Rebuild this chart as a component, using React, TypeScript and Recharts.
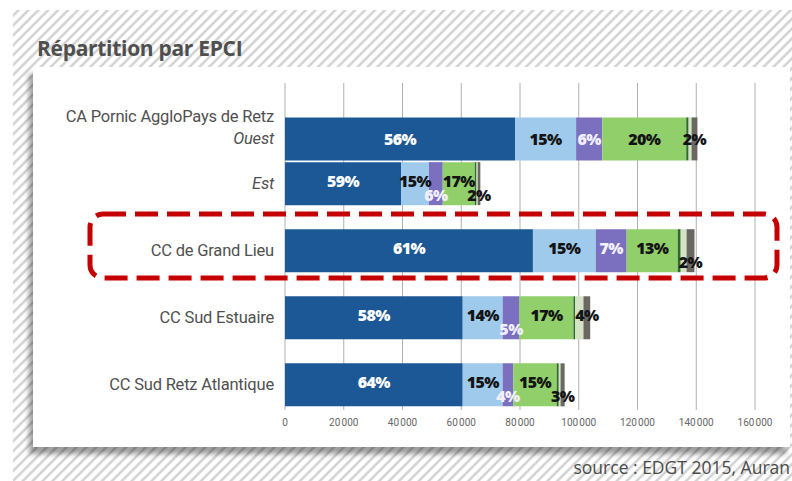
import React from "react";
import { BarChart, Bar, XAxis, YAxis, CartesianGrid, LabelList } from "recharts";

// Y categories (blank strings are empty rows of the layout)
const categories = [
  "",
  "CA Pornic AggloPays de Retz",
  "Ouest",
  "",
  "Est",
  "",
  "",
  "CC de Grand Lieu",
  "",
  "",
  "CC Sud Estuaire",
  "",
  "",
  "CC Sud Retz Atlantique",
];
const italicCategories = ["Ouest", "Est"];

// Number of trips per mode, aligned with categories (null = no bar)
const darkBlue = [null, null, 78300, null, 39500, null, null, 84400, null, null, 60500, null, null, 60500];
const lightBlue = [null, null, 20800, null, 9500, null, null, 21400, null, null, 13600, null, null, 13600];
const purple = [null, null, 8900, null, 4700, null, null, 10500, null, null, 5700, null, null, 3600];
const green = [null, null, 28600, null, 10900, null, null, 17400, null, null, 18400, null, null, 14800];
const darkGreen = [null, null, 800, null, 600, null, null, 1000, null, null, 600, null, null, 700];
const paleGreen = [null, null, 1000, null, 400, null, null, 2000, null, null, 2800, null, null, 600];
const grey = [null, null, 2000, null, 900, null, null, 2700, null, null, 2300, null, null, 1400];

// Printed percentage labels
const pctDarkBlue = [null, null, "56%", null, "59%", null, null, "61%", null, null, "58%", null, null, "64%"];
const pctLightBlue = [null, null, "15%", null, "15%", null, null, "15%", null, null, "14%", null, null, "15%"];
const pctPurple = [null, null, "6%", null, "6%", null, null, "7%", null, null, "5%", null, null, "4%"];
const pctGreen = [null, null, "20%", null, "17%", null, null, "13%", null, null, "17%", null, null, "15%"];
const pctGrey = [null, null, "2%", null, "2%", null, null, "2%", null, null, "4%", null, null, "3%"];

const xTicks = [0, 20000, 40000, 60000, 80000, 100000, 120000, 140000, 160000];

type Series = {
  key: string;
  values: (number | null)[];
  labels: (string | null)[] | null;
  fill: string;
  text: string;
};

const series: Series[] = [
  { key: "darkBlue", values: darkBlue, labels: pctDarkBlue, fill: "#1d5896", text: "#ffffff" },
  { key: "lightBlue", values: lightBlue, labels: pctLightBlue, fill: "#9fcaec", text: "#141414" },
  { key: "purple", values: purple, labels: pctPurple, fill: "#7a70bf", text: "#f2f0ff" },
  { key: "green", values: green, labels: pctGreen, fill: "#91cf6b", text: "#141414" },
  { key: "darkGreen", values: darkGreen, labels: null, fill: "#2f6a2c", text: "#141414" },
  { key: "paleGreen", values: paleGreen, labels: null, fill: "#d3e3c3", text: "#141414" },
  { key: "grey", values: grey, labels: pctGrey, fill: "#6b6862", text: "#141414" },
];

const CHAR_W = 11.5;

function layoutRow(row: number, k: number) {
  let x = 0;
  let prevRight = -Infinity;
  let anyDrop = false;
  const out: { cx: number; drop: boolean }[] = [];
  series.forEach((s, i) => {
    const v = s.values[row] ?? 0;
    const w = v * k;
    const lbl = s.labels ? s.labels[row] : null;
    if (lbl) {
      const cx = x + w / 2;
      const tw = lbl.length * CHAR_W;
      const narrow = w < tw * 0.75;
      const drop = narrow && cx - tw / 2 < prevRight + 11;
      if (!drop) prevRight = cx + tw / 2;
      if (drop) anyDrop = true;
      out[i] = { cx, drop };
    }
    x += w;
  });
  return { out, anyDrop };
}

function makeLabel(si: number) {
  return (props: any) => {
    const vb = props.viewBox || {};
    const x = props.x ?? vb.x;
    const y = props.y ?? vb.y;
    const width = props.width ?? vb.width;
    const height = props.height ?? vb.height;
    const index = Number(props.value);
    const s = series[si];
    const lbl = s.labels ? s.labels[index] : null;
    const v = s.values[index];
    if (!lbl || !v || !width) return null;
    const k = width / v;
    let before = 0;
    for (let i = 0; i < si; i++) before += series[i].values[index] ?? 0;
    const x0 = x - before * k;
    const { out, anyDrop } = layoutRow(index, k);
    const p = out[si];
    const cy = y + height / 2 + (p.drop ? 11 : anyDrop ? -3 : 0);
    return (
      <text
        x={x0 + p.cx}
        y={cy}
        textAnchor="middle"
        dominantBaseline="central"
        fontFamily="'Open Sans', sans-serif"
        fontWeight={800}
        fontSize={16}
        letterSpacing={-0.6}
        fill={s.text}
      >
        {lbl}
      </text>
    );
  };
}

const YTick = (props: any) => {
  const { x, y, payload } = props;
  const v = payload && payload.value;
  if (!v) return null;
  const italic = italicCategories.includes(v);
  return (
    <text
      x={x}
      y={y}
      textAnchor="end"
      dominantBaseline="central"
      fontFamily="Roboto, sans-serif"
      fontSize={16.5}
      letterSpacing={-0.2}
      fontStyle={italic ? "italic" : "normal"}
      fill="#505050"
    >
      {v}
    </text>
  );
};

const fmt = (v: number) => (v === 0 ? "0" : `${Math.floor(v / 1000)}\u202F000`);

export default function App() {
  const data = categories.map((c, i) => {
    const row: any = { cat: c, row: i };
    series.forEach((s) => {
      row[s.key] = s.values[i];
    });
    return row;
  });

  const hatch =
    "repeating-linear-gradient(135deg, #ffffff 0px, #ffffff 2px, #d2d2d2 3.5px, #d2d2d2 4.5px, #ffffff 6px, #ffffff 7px)";

  return (
    <div
      style={{
        position: "absolute",
        left: 0,
        top: 0,
        width: 792,
        height: 481,
        overflow: "hidden",
        background: "#ffffff",
      }}
    >
      <div style={{ position: "absolute", left: 13, top: 10, right: 0, bottom: 0, background: hatch }} />
      <div
        style={{
          position: "absolute",
          left: 33,
          top: 67,
          width: 757,
          height: 380,
          background: "#ffffff",
          boxShadow: "-4px 7px 5px rgba(0,0,0,0.38)",
        }}
      />
      <div
        style={{
          position: "absolute",
          left: 37,
          top: 34,
          fontFamily: "'Open Sans', sans-serif",
          fontWeight: 700,
          fontSize: 21,
          color: "#4f4f4f",
          whiteSpace: "nowrap",
          letterSpacing: -0.3,
        }}
      >
        Répartition par EPCI
      </div>
      <div style={{ position: "absolute", left: 0, top: 0 }}>
        <BarChart
          width={792}
          height={481}
          data={data}
          layout="vertical"
          margin={{ top: 83, right: 37, bottom: 41, left: 0 }}
          barCategoryGap={-10.3}
        >
          <CartesianGrid horizontal={false} stroke="#b0b0b0" />
          <XAxis
            type="number"
            domain={[0, 160000]}
            ticks={xTicks}
            tickFormatter={fmt}
            axisLine={false}
            tickLine={false}
            tickSize={0}
            tickMargin={9}
            interval={0}
            tick={{ fontSize: 10, fill: "#666666", fontFamily: "Roboto, sans-serif" }}
          />
          <YAxis
            type="category"
            dataKey="cat"
            width={285}
            axisLine={false}
            tickLine={false}
            tickSize={0}
            tickMargin={11}
            interval={0}
            tick={<YTick />}
            padding={{ top: 0, bottom: 14 }}
          />
          {series.map((s, si) => (
            <Bar key={s.key} dataKey={s.key} stackId="a" fill={s.fill} isAnimationActive={false}>
              {s.labels ? <LabelList dataKey="row" content={makeLabel(si)} /> : null}
            </Bar>
          ))}
        </BarChart>
      </div>
      <svg width={792} height={481} style={{ position: "absolute", left: 0, top: 0, pointerEvents: "none" }}>
        <rect
          x={90}
          y={214}
          width={687}
          height={64}
          rx={13}
          ry={13}
          fill="none"
          stroke="#c40000"
          strokeWidth={5}
          strokeDasharray="23 9"
        />
      </svg>
      <div
        style={{
          position: "absolute",
          right: 2,
          top: 455,
          fontFamily: "'Open Sans', sans-serif",
          fontSize: 17.5,
          color: "#4a4a4a",
          whiteSpace: "nowrap",
        }}
      >
        source : EDGT 2015, Auran
      </div>
    </div>
  );
}
